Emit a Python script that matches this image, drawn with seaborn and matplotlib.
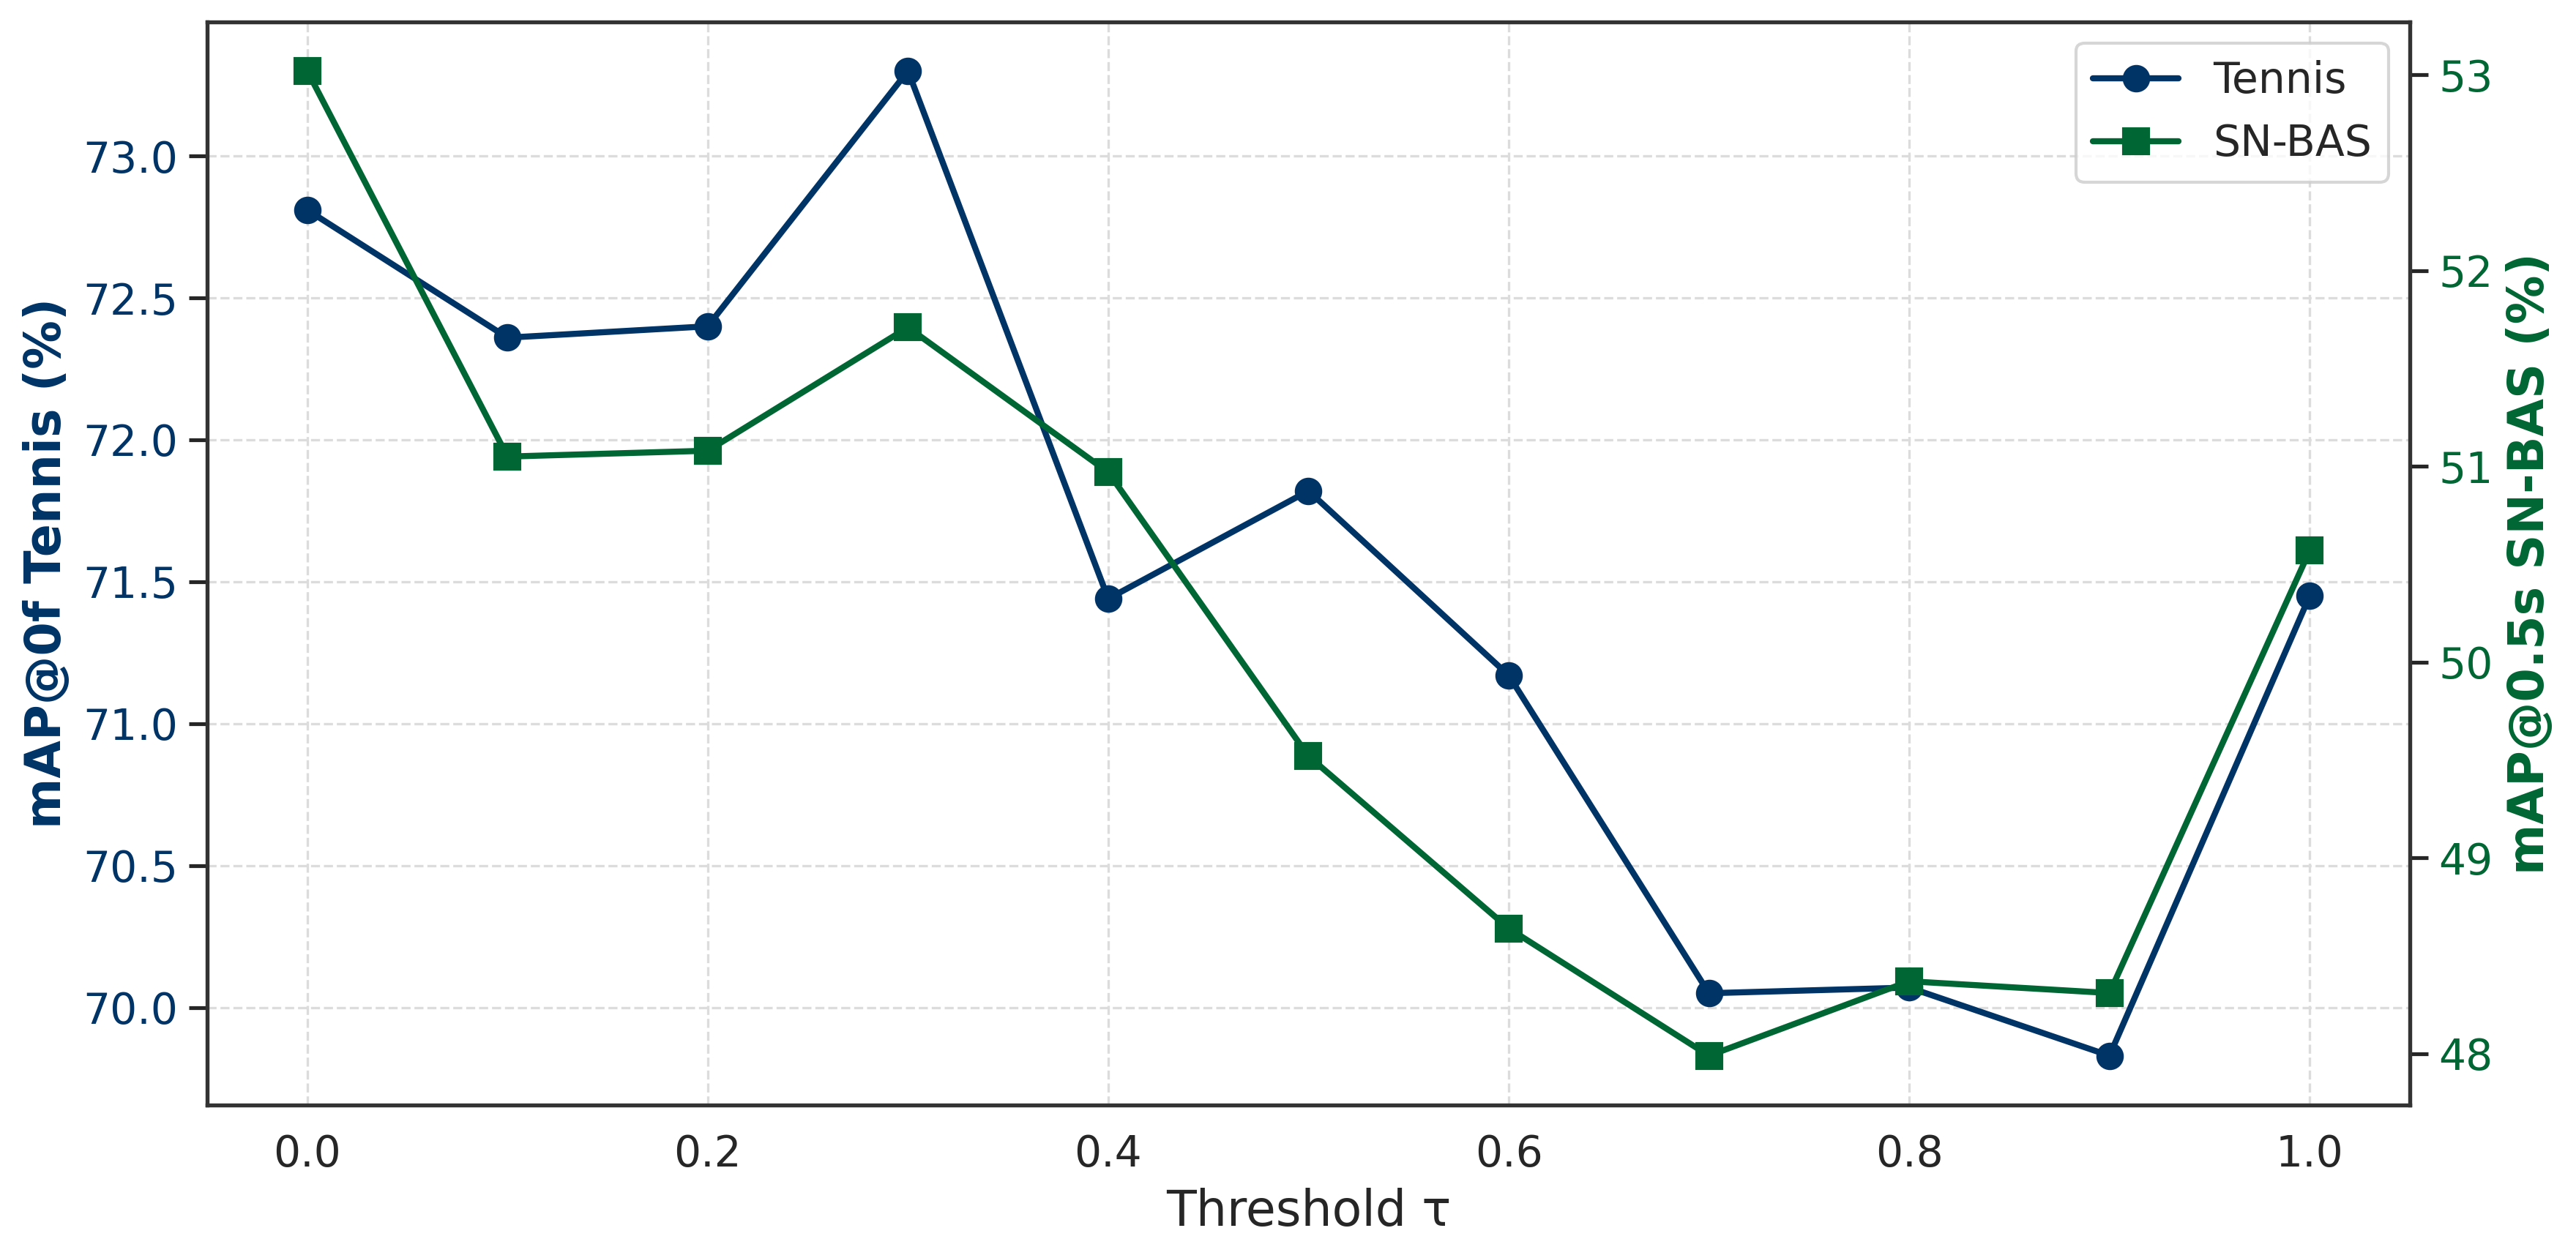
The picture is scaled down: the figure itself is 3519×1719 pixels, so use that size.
import numpy as np
import pandas as pd
import seaborn as sns
import matplotlib.pyplot as plt

# threshold values and scores
thresholds = [0.0, 0.1, 0.2, 0.3, 0.4, 0.5, 0.6, 0.7, 0.8, 0.9, 1.0]
tennis_map = [72.81, 72.36, 72.40, 73.30, 71.44, 71.82, 71.17, 70.05, 70.07, 69.83, 71.45]
snbas_map = [53.02, 51.05, 51.08, 51.71, 50.97, 49.52, 48.64, 47.99, 48.37, 48.31, 50.57]

NAVY = '#003366'
GREEN = '#006633'

sns.set_theme(style='ticks')
plt.rcParams['font.family'] = ['DejaVu Sans']

df = pd.DataFrame({'tau': thresholds, 'tennis': tennis_map, 'snbas': snbas_map})

fig, ax1 = plt.subplots(figsize=(11.73, 5.73), dpi=300)
fig.subplots_adjust(left=0.0804, right=0.9355, top=0.9828, bottom=0.1217)
ax2 = ax1.twinx()

sns.lineplot(data=df, x='tau', y='tennis', ax=ax1, color=NAVY, marker='o',
             markersize=8, linewidth=2, markeredgecolor=NAVY, markeredgewidth=1,
             label='Tennis', legend=False)
sns.lineplot(data=df, x='tau', y='snbas', ax=ax2, color=GREEN, marker='s',
             markersize=8, linewidth=2, markeredgecolor=GREEN, markeredgewidth=1,
             label='SN-BAS', legend=False)

ax1.grid(True, linestyle='--', linewidth=0.8, color='#dcdcdc')
ax2.grid(False)

ax1.set_xlabel('Threshold τ', fontsize=16)
ax1.set_ylabel('mAP@0f Tennis (%)', fontsize=16, fontweight='bold', color=NAVY)
ax2.set_ylabel('mAP@0.5s SN-BAS (%)', fontsize=16, fontweight='bold', color=GREEN)

ax1.tick_params(axis='x', labelsize=14, bottom=False)
ax1.tick_params(axis='y', labelsize=14, labelcolor=NAVY)
ax2.tick_params(axis='y', labelsize=14, labelcolor=GREEN)

for ax in (ax1, ax2):
    for sp in ax.spines.values():
        sp.set_visible(True)
        sp.set_color('#333333')

h1, l1 = ax1.get_legend_handles_labels()
h2, l2 = ax2.get_legend_handles_labels()
if ax1.get_legend() is not None:
    ax1.get_legend().remove()
ax2.legend(h1 + h2, l1 + l2, loc='upper right', fontsize=14, frameon=True)

plt.savefig('out.png', dpi=300)
